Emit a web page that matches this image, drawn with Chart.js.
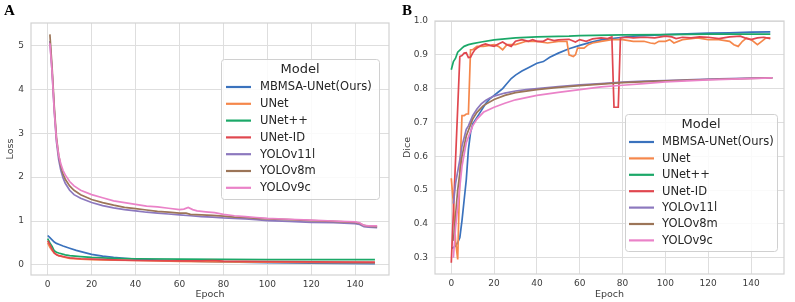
<!DOCTYPE html>
<html>
<head>
<meta charset="utf-8">
<script src="https://cdn.jsdelivr.net/npm/chart.js@4.4.1/dist/chart.umd.min.js"></script>
<style>
  html, body { margin: 0; padding: 0; background: #fff; }
  #wrap { position: relative; width: 795px; height: 302px; overflow: hidden; }
  .panel { position: absolute; top: 0; height: 302px; }
  .tag { position: absolute; font: bold 15px "Liberation Serif", "DejaVu Serif", serif; color: #000; }
</style>
</head>
<body>
<div id="wrap">
  <div class="panel" style="left:0;width:397px;"><canvas id="lossChart" width="397" height="302"></canvas></div>
  <div class="panel" style="left:397px;width:398px;"><canvas id="diceChart" width="398" height="302"></canvas></div>
  <div class="tag" style="left:4px;top:2px;">A</div>
  <div class="tag" style="left:402px;top:2px;">B</div>
</div>
<script>
// ─── Data ─────────────────────────────────────────────────────────────────────
const models = ['MBMSA-UNet(Ours)', 'UNet', 'UNet++', 'UNet-ID', 'YOLOv11l', 'YOLOv8m', 'YOLOv9c'];
const colors = ['#3a72bd', '#f5874b', '#1ba868', '#e0474f', '#8c78be', '#9c7558', '#ea82c8'];

const epochTicks = [0, 20, 40, 60, 80, 100, 120, 140];
const lossTicks = [0, 1, 2, 3, 4, 5];
const diceTicks = [0.3, 0.4, 0.5, 0.6, 0.7, 0.8, 0.9, 1.0];

// Loss curves: [epoch, loss]
const lossMBMSA = [[0,0.67],[1,0.62],[2,0.57],[3,0.52],[4,0.49],[5,0.47],[7,0.43],[10,0.38],[13,0.33],[16,0.29],[20,0.24],[25,0.2],[30,0.17],[35,0.15],[40,0.13],[50,0.11],[60,0.09],[70,0.08],[80,0.07],[100,0.05],[120,0.04],[149,0.03]];
const lossUNet = [[0,0.5],[1,0.4],[2,0.33],[3,0.27],[5,0.21],[8,0.17],[10,0.15],[15,0.13],[20,0.12],[30,0.11],[40,0.1],[60,0.08],[80,0.07],[100,0.06],[120,0.055],[149,0.05]];
const lossUNetPP = [[0,0.6],[1,0.5],[2,0.42],[3,0.32],[4,0.29],[5,0.27],[8,0.23],[10,0.21],[15,0.19],[20,0.17],[25,0.16],[30,0.15],[40,0.14],[60,0.13],[80,0.125],[100,0.12],[149,0.12]];
const lossUNetID = [[0,0.55],[1,0.46],[2,0.36],[3,0.27],[4,0.23],[5,0.21],[8,0.18],[10,0.16],[15,0.14],[20,0.13],[30,0.115],[40,0.1],[60,0.09],[70,0.09],[75,0.1],[78,0.09],[80,0.085],[100,0.075],[120,0.07],[149,0.065]];
const lossYOLO11 = [[1,5.1],[2,4.4],[3,3.5],[4,2.8],[5,2.4],[6,2.15],[7,1.98],[8,1.86],[10,1.7],[12,1.6],[15,1.52],[20,1.42],[25,1.35],[30,1.3],[35,1.26],[40,1.23],[45,1.2],[50,1.18],[55,1.16],[60,1.14],[65,1.12],[70,1.1],[75,1.09],[80,1.07],[85,1.06],[90,1.05],[95,1.03],[100,1.01],[110,0.99],[120,0.97],[130,0.96],[140,0.94],[142,0.92],[144,0.87],[146,0.86],[150,0.85]];
const lossYOLO8 = [[1,5.25],[2,4.5],[3,3.6],[4,2.9],[5,2.5],[6,2.25],[7,2.07],[8,1.95],[10,1.8],[12,1.7],[15,1.6],[20,1.49],[25,1.42],[30,1.36],[35,1.31],[40,1.28],[45,1.25],[50,1.22],[55,1.2],[60,1.18],[63,1.18],[65,1.15],[70,1.14],[75,1.13],[80,1.11],[85,1.09],[90,1.08],[95,1.06],[100,1.05],[110,1.03],[120,1.01],[130,0.99],[140,0.97],[142,0.95],[144,0.9],[146,0.88],[150,0.87]];
const lossYOLO9 = [[1,5.05],[2,4.4],[3,3.5],[4,2.85],[5,2.5],[6,2.3],[7,2.15],[8,2.05],[10,1.9],[12,1.8],[15,1.7],[20,1.6],[25,1.53],[30,1.46],[35,1.42],[40,1.38],[45,1.34],[50,1.32],[55,1.29],[60,1.26],[62,1.27],[64,1.31],[66,1.26],[68,1.23],[72,1.21],[76,1.19],[80,1.15],[85,1.12],[90,1.1],[95,1.08],[100,1.06],[110,1.04],[120,1.02],[130,1.0],[140,0.98],[142,0.96],[144,0.9],[146,0.89],[150,0.89]];

// Dice curves: [epoch, dice]
const diceMBMSA = [[0,0.328],[1,0.33],[2,0.335],[3,0.345],[4,0.36],[5,0.41],[6,0.47],[7,0.53],[8,0.62],[9,0.67],[10,0.695],[12,0.715],[14,0.735],[16,0.755],[18,0.77],[20,0.78],[22,0.79],[24,0.8],[26,0.815],[28,0.83],[30,0.84],[33,0.852],[36,0.862],[40,0.875],[43,0.88],[46,0.893],[50,0.905],[55,0.918],[60,0.928],[65,0.937],[70,0.944],[75,0.948],[80,0.952],[85,0.955],[90,0.957],[95,0.958],[100,0.96],[110,0.962],[120,0.964],[130,0.965],[140,0.967],[149,0.968]];
const diceUNet = [[0,0.535],[1,0.46],[2,0.35],[3,0.295],[4,0.55],[5,0.72],[6,0.72],[7,0.725],[8,0.725],[9,0.915],[10,0.915],[12,0.925],[15,0.925],[20,0.93],[22,0.925],[24,0.915],[26,0.93],[30,0.93],[35,0.94],[40,0.94],[45,0.935],[50,0.94],[54,0.94],[55,0.9],[57,0.895],[58,0.9],[59,0.92],[62,0.92],[64,0.93],[66,0.935],[70,0.94],[75,0.945],[80,0.945],[85,0.94],[90,0.94],[93,0.935],[95,0.933],[97,0.94],[100,0.94],[102,0.945],[104,0.935],[108,0.945],[115,0.95],[120,0.945],[125,0.945],[130,0.94],[132,0.93],[134,0.925],[136,0.94],[138,0.95],[140,0.945],[143,0.93],[145,0.94],[147,0.95],[149,0.95]];
const diceUNetPP = [[0,0.856],[1,0.88],[2,0.89],[3,0.908],[5,0.92],[6,0.925],[8,0.93],[10,0.933],[14,0.938],[20,0.944],[30,0.95],[40,0.953],[55,0.955],[60,0.957],[80,0.959],[100,0.96],[120,0.961],[149,0.961]];
const diceUNetID = [[0,0.285],[4,0.895],[5,0.898],[6,0.905],[7,0.906],[8,0.892],[9,0.893],[10,0.905],[11,0.915],[12,0.92],[14,0.928],[16,0.932],[18,0.928],[20,0.925],[22,0.932],[24,0.938],[26,0.93],[28,0.925],[30,0.94],[33,0.945],[36,0.94],[38,0.945],[40,0.94],[43,0.94],[45,0.947],[48,0.942],[50,0.944],[55,0.946],[58,0.938],[60,0.945],[63,0.94],[66,0.947],[70,0.95],[73,0.948],[75,0.953],[76,0.745],[78,0.745],[79,0.95],[82,0.952],[85,0.95],[90,0.952],[95,0.95],[100,0.955],[103,0.953],[105,0.948],[108,0.952],[112,0.95],[116,0.953],[120,0.952],[125,0.948],[130,0.953],[135,0.955],[138,0.948],[140,0.945],[143,0.95],[146,0.952],[149,0.948]];
const diceYOLO11 = [[1,0.46],[2,0.52],[4,0.59],[5,0.63],[7,0.68],[8,0.69],[10,0.72],[12,0.74],[14,0.755],[16,0.765],[18,0.772],[20,0.778],[25,0.787],[30,0.793],[35,0.797],[40,0.8],[50,0.806],[60,0.811],[70,0.815],[80,0.819],[90,0.822],[100,0.824],[110,0.826],[120,0.828],[130,0.83],[140,0.831],[150,0.832]];
const diceYOLO8 = [[1,0.35],[3,0.5],[5,0.6],[7,0.66],[10,0.71],[12,0.73],[15,0.75],[20,0.768],[25,0.78],[30,0.788],[40,0.797],[50,0.804],[60,0.809],[80,0.818],[100,0.823],[120,0.827],[150,0.832]];
const diceYOLO9 = [[1,0.3],[2,0.39],[3,0.45],[5,0.57],[7,0.64],[10,0.69],[12,0.71],[15,0.73],[20,0.745],[25,0.757],[30,0.767],[40,0.78],[50,0.789],[60,0.797],[70,0.805],[80,0.81],[90,0.815],[100,0.82],[120,0.826],[150,0.832]];

const lossSeries = [lossMBMSA, lossUNet, lossUNetPP, lossUNetID, lossYOLO11, lossYOLO8, lossYOLO9];
const diceSeries = [diceMBMSA, diceUNet, diceUNetPP, diceUNetID, diceYOLO11, diceYOLO8, diceYOLO9];

// ─── Plugins ──────────────────────────────────────────────────────────────────
// Light grey frame round the plot area (seaborn whitegrid spines)
const frame = {
    id: 'frame',
    afterDraw(chart) {
        const { ctx, chartArea: a } = chart;
        ctx.save();
        ctx.strokeStyle = '#d2d2d2';
        ctx.lineWidth = 1.2;
        ctx.strokeRect(a.left, a.top, a.right - a.left, a.bottom - a.top);
        ctx.restore();
    }
};

// Matplotlib-style legend box with a "Model" title
const boxLegend = {
    id: 'boxLegend',
    afterDraw(chart, args, o) {
        const { ctx } = chart;
        ctx.save();
        ctx.beginPath();
        ctx.roundRect(o.x + 0.5, o.y + 0.5, o.w, o.h, 3);
        ctx.fillStyle = 'rgba(255,255,255,0.85)';
        ctx.fill();
        ctx.strokeStyle = '#d0d0d0';
        ctx.lineWidth = 1;
        ctx.stroke();

        ctx.fillStyle = '#262626';
        ctx.textBaseline = 'middle';
        ctx.textAlign = 'center';
        ctx.font = '13px "DejaVu Sans"';
        ctx.fillText('Model', o.x + o.w / 2, o.titleY);

        ctx.textAlign = 'left';
        ctx.font = '11.5px "DejaVu Sans"';
        chart.data.datasets.forEach((ds, i) => {
            const y = o.firstY + i * o.rowH;
            ctx.strokeStyle = ds.borderColor;
            ctx.lineWidth = 2.2;
            ctx.beginPath();
            ctx.moveTo(o.h0, y);
            ctx.lineTo(o.h1, y);
            ctx.stroke();
            ctx.fillStyle = '#262626';
            ctx.fillText(ds.label, o.textX, y + 0.5);
        });
        ctx.restore();
    }
};

function makeChart(id, series, opts) {
    const datasets = series.map((pts, i) => ({
        label: models[i],
        data: pts.map(([x, y]) => ({ x, y })),
        borderColor: colors[i],
        borderWidth: 1.7,
        pointRadius: 0,
        tension: 0,
        order: models.length - i   // later models drawn on top, like matplotlib
    }));

    return new Chart(document.getElementById(id), {
        type: 'line',
        data: { datasets },
        plugins: [frame, boxLegend],
        options: {
            responsive: false,
            animation: false,
            layout: { padding: opts.padding },
            plugins: {
                legend: { display: false },
                tooltip: { enabled: false },
                boxLegend: opts.legend
            },
            scales: {
                x: {
                    type: 'linear',
                    min: -7.6,
                    max: 155.4,
                    afterBuildTicks: s => { s.ticks = epochTicks.map(v => ({ value: v })); },
                    afterFit: s => { s.height = opts.xHeight; },
                    grid: { color: '#dedede', lineWidth: 1, drawTicks: false },
                    border: { display: false },
                    ticks: { color: '#3c3c3c', font: { family: 'DejaVu Sans', size: 9 }, padding: 4, maxRotation: 0 },
                    title: { display: true, text: 'Epoch', color: '#3c3c3c', font: { family: 'DejaVu Sans', size: 9.5 }, padding: { top: 0, bottom: 2 } }
                },
                y: {
                    min: opts.yMin,
                    max: opts.yMax,
                    afterBuildTicks: s => { s.ticks = opts.yTicks.map(v => ({ value: v })); },
                    afterFit: s => { s.width = opts.yWidth; },
                    grid: { color: '#dedede', lineWidth: 1, drawTicks: false },
                    border: { display: false },
                    ticks: { color: '#3c3c3c', font: { family: 'DejaVu Sans', size: 9 }, padding: 7, callback: opts.yFormat },
                    title: { display: true, text: opts.yTitle, color: '#3c3c3c', font: { family: 'DejaVu Sans', size: 9.5 }, padding: { top: 5, bottom: 0 } }
                }
            }
        }
    });
}

makeChart('lossChart', lossSeries, {
    padding: { left: 0, top: 23, right: 8, bottom: 0 },
    xHeight: 27, yWidth: 31,
    yMin: -0.23, yMax: 5.51, yTicks: lossTicks, yTitle: 'Loss',
    yFormat: v => String(v),
    legend: { x: 221, y: 59, w: 158, h: 140, titleY: 69.5, firstY: 87, rowH: 16.8, h0: 226, h1: 251, textX: 260 }
});

makeChart('diceChart', diceSeries, {
    padding: { left: 0, top: 21, right: 11, bottom: 0 },
    xHeight: 28, yWidth: 38,
    yMin: 0.252, yMax: 1.0, yTicks: diceTicks, yTitle: 'Dice',
    yFormat: v => v.toFixed(1),
    legend: { x: 228, y: 114, w: 152, h: 137, titleY: 125, firstY: 142, rowH: 16.4, h0: 232, h1: 257, textX: 265 }
});
</script>
</body>
</html>
